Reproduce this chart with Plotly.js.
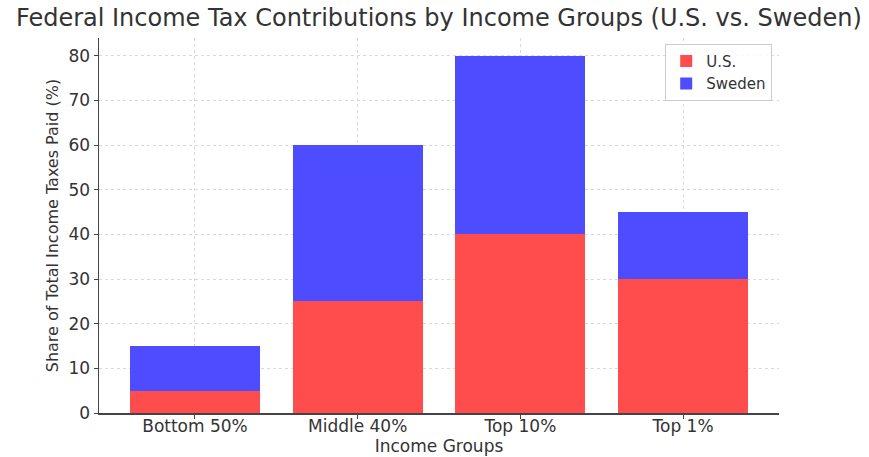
<!DOCTYPE html>
<html>
<head>
<meta charset="utf-8">
<script src="https://cdn.plot.ly/plotly-3.0.1.min.js"></script>
<style>html,body{margin:0;padding:0;background:#fff;}#chart{width:869px;height:457px;}</style>
</head>
<body>
<div id="chart"></div>
<script>
const categories = ["Bottom 50%", "Middle 40%", "Top 10%", "Top 1%"];
const usShare = [5, 25, 40, 30];
const swedenShare = [10, 35, 40, 15];
const yTicks = [0, 10, 20, 30, 40, 50, 60, 70, 80];

const font = "DejaVu Sans, sans-serif";
const traces = [
  {type: "bar", name: "U.S.", x: [0,1,2,3], y: usShare, width: 0.8,
   marker: {color: "#ff4d4d", line: {width: 0}}},
  {type: "bar", name: "Sweden", x: [0,1,2,3], y: swedenShare, width: 0.8,
   marker: {color: "#4d4dff", line: {width: 0}}}
];
const layout = {
  width: 869, height: 457,
  barmode: "stack",
  paper_bgcolor: "#fff", plot_bgcolor: "#fff",
  margin: {l: 99, r: 90, t: 38, b: 44},
  font: {family: font, color: "#333", size: 14},
  title: {text: "Federal Income Tax Contributions by Income Groups (U.S. vs. Sweden)",
          font: {size: 24, color: "#333"}, x: 0.505, xanchor: "center", y: 0.962, yanchor: "middle"},
  xaxis: {range: [-0.59, 3.59], tickvals: [0,1,2,3], ticktext: categories,
          showgrid: true, gridcolor: "#d9d9d9", griddash: "dot", gridwidth: 1,
          showline: true, linecolor: "#444", linewidth: 1.5, ticks: "outside", ticklen: 4, tickcolor: "#444",
          tickfont: {size: 17, color: "#333"}, zeroline: false, ticklabelstandoff: -7,
          title: {text: "Income Groups", font: {size: 17, color: "#333"}, standoff: 2}},
  yaxis: {range: [0, 84], tickvals: yTicks,
          showgrid: true, gridcolor: "#d9d9d9", griddash: "dot", gridwidth: 1,
          showline: true, linecolor: "#444", linewidth: 1.5, ticks: "outside", ticklen: 4, tickcolor: "#444",
          tickfont: {size: 17, color: "#333"}, zeroline: false,
          title: {text: "Share of Total Income Taxes Paid (%)", font: {size: 16, color: "#333"}, standoff: 6}},
  legend: {x: 0.99, xanchor: "right", y: 0.985, yanchor: "top",
           bgcolor: "rgba(255,255,255,0.85)", bordercolor: "#ccc", borderwidth: 1,
           font: {size: 15, color: "#333"}, traceorder: "normal"},
  showlegend: true
};
Plotly.newPlot("chart", traces, layout, {displayModeBar: false, staticPlot: true});
</script>
</body>
</html>
